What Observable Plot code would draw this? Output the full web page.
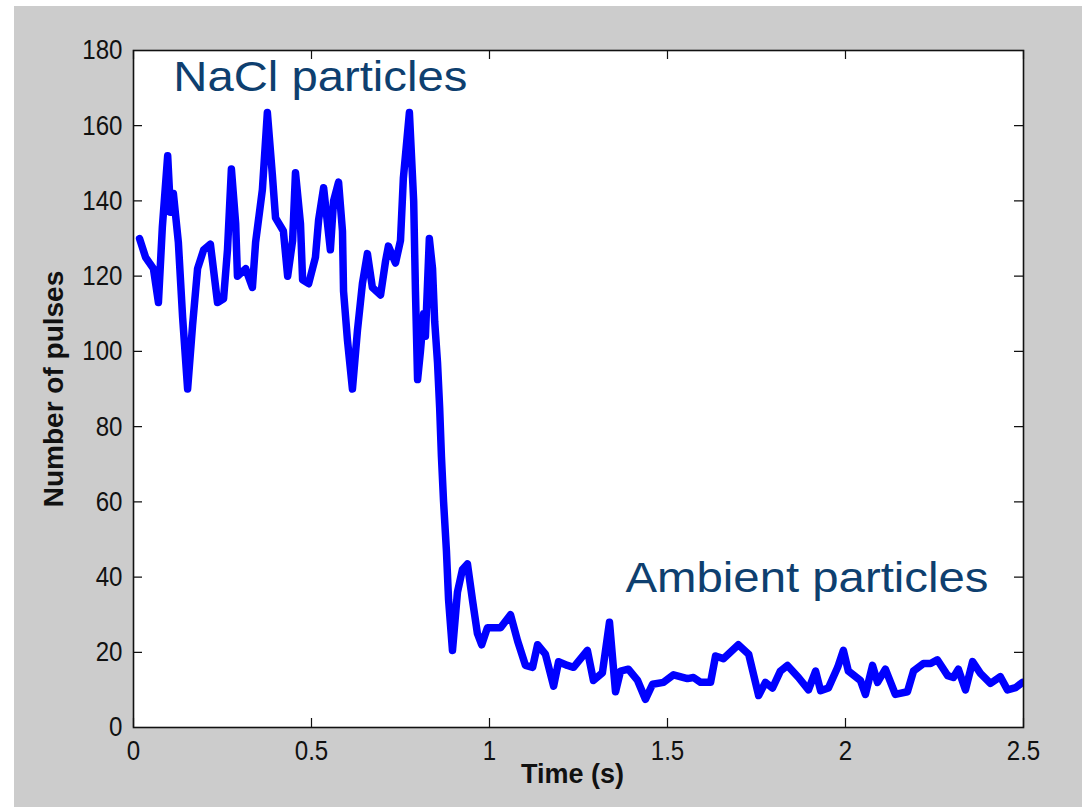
<!DOCTYPE html>
<html><head><meta charset="utf-8">
<script src="https://cdn.jsdelivr.net/npm/d3@7"></script>
<script src="https://cdn.jsdelivr.net/npm/@observablehq/plot@0.6"></script>
<style>
html,body{margin:0;padding:0;background:#fff;}
#bg{position:absolute;left:14px;top:6px;width:1068px;height:801px;background:#cccccc;}
#chart{position:absolute;left:0;top:0;}
</style></head><body><div id="bg"></div><div id="chart"></div>
<script>
const time = [
0.017,0.034,0.056,0.070,0.081,0.096,0.104,0.112,0.126,0.138,
0.152,0.166,0.180,0.197,0.216,0.236,0.253,0.264,0.275,0.287,
0.292,0.315,0.334,0.343,0.362,0.376,0.390,0.399,0.421,0.433,
0.447,0.455,0.469,0.475,0.492,0.511,0.520,0.534,0.553,0.562,
0.576,0.587,0.590,0.601,0.615,0.629,0.643,0.657,0.671,0.694,
0.708,0.716,0.736,0.750,0.758,0.775,0.787,0.792,0.798,0.806,
0.815,0.820,0.831,0.840,0.846,0.854,0.860,0.865,0.871,0.879,
0.885,0.896,0.910,0.924,0.938,0.952,0.966,0.978,0.994,1.031,
1.059,1.079,1.101,1.121,1.135,1.157,1.180,1.194,1.219,1.236,
1.275,1.292,1.317,1.337,1.348,1.354,1.368,1.390,1.416,1.438,
1.458,1.489,1.517,1.556,1.573,1.593,1.621,1.635,1.657,1.699,
1.728,1.756,1.775,1.795,1.817,1.837,1.868,1.896,1.916,1.930,
1.952,1.978,1.994,2.008,2.042,2.056,2.076,2.090,2.112,2.140,
2.174,2.191,2.219,2.239,2.258,2.287,2.303,2.317,2.337,2.357,
2.379,2.407,2.435,2.455,2.478,2.497];
const pulses = [
130,125,122,113,133,152,137,142,129,109,
90,107,122,127,128.5,113,114,127,148.5,134,
120,122,117,129,143,163.5,147,135.5,132,120,
129.5,147.5,134,119,118,125,135,143.5,127,140,
145,132,116,103,90,105.5,118,126,117,115,
124,128,123.5,129.5,146,163.5,140,116,92.5,100,
110,104,130,122,108,97,85,72,60,47,
34,20.5,36,42,43.5,34,25,22,26.5,26.5,
30,23,16.5,16,22,19.5,11,17.5,16.5,16,
20.5,12.5,14.5,28,16,9.5,15,15.5,12.5,7.5,
11.5,12,14,13,13.3,12,12,19,18.3,22,
19.5,8.5,12,10.5,15,16.5,13.3,10,15,9.8,
10.5,16,20.5,15,12.5,8.8,16.5,12,15.5,8.8,
9.5,15,17,17,18,13.8,13.3,15.5,10,17.5,
14.4,11.7,13.5,10,10.6,12];
const xTicks = [0, 0.5, 1, 1.5, 2, 2.5];
const yTicks = [0, 20, 40, 60, 80, 100, 120, 140, 160, 180];
const xLabel = "Time (s)";
const yLabel = "Number of pulses";
const annotationText = ["NaCl particles", "Ambient particles"];
const annotationTime = [0.112, 1.382];
const annotationValue = [172.9, 39.7];

const data = time.map((t, i) => ({t, v: pulses[i]}));
const notes = annotationText.map((text, i) => ({text, t: annotationTime[i], v: annotationValue[i]}));

const plot = Plot.plot({
  width: 1082, height: 807,
  marginLeft: 133, marginRight: 59, marginTop: 50, marginBottom: 80,
  style: {fontFamily: "'Liberation Sans', Arial, sans-serif", background: "transparent", color: "#111", overflow: "visible"},
  x: {domain: [0, 2.5]},
  y: {domain: [0, 180]},
  marks: [
    Plot.frame({fill: "white", stroke: null}),
    Plot.ruleY(yTicks, {y: d => d, x1: 0, x2: 2.5, stroke: "#111", strokeWidth: 1.2, strokeDasharray: "9 872 9"}),
    Plot.ruleX(xTicks, {x: d => d, y1: 0, y2: 180, stroke: "#111", strokeWidth: 1.2, strokeDasharray: "9 659 9"}),
    Plot.line(data, {x: "t", y: "v", stroke: "#0000ff", strokeWidth: 7.5, strokeLinejoin: "round", strokeLinecap: "round", clip: true}),
    Plot.frame({stroke: "#111", strokeWidth: 1.6}),
    Plot.axisX({ticks: xTicks, tickSize: 0, tickPadding: 13, fontSize: 28, tickFormat: d => String(d), label: null}),
    Plot.axisY({ticks: yTicks, tickSize: 0, tickPadding: 11, fontSize: 28, tickFormat: d => String(d), label: null}),
    Plot.text([xLabel], {text: d => d, frameAnchor: "bottom", lineAnchor: "middle", textAnchor: "middle", dy: 47, dx: -6, fontSize: 27, fontWeight: "bold", fill: "#111"}),
    Plot.text([yLabel], {text: d => d, frameAnchor: "left", lineAnchor: "middle", textAnchor: "middle", dx: -79, rotate: -90, fontSize: 28, fontWeight: "bold", fill: "#111"}),
    Plot.text(notes, {x: "t", y: "v", text: "text", textAnchor: "start", lineAnchor: "middle", fontSize: 42, fill: "#0e3f6f"})
  ]
});
document.getElementById("chart").appendChild(plot);

// horizontal adjustments of glyph widths to match the reference typography
const widths = {"NaCl particles": 294, "Ambient particles": 363};
plot.querySelectorAll("text").forEach(el => {
  const s = el.textContent;
  if (widths[s]) {
    el.setAttribute("textLength", widths[s]);
    el.setAttribute("lengthAdjust", "spacingAndGlyphs");
  } else if (/^[0-9.]+$/.test(s)) {
    const w = el.getComputedTextLength();
    el.setAttribute("textLength", (w * 0.86).toFixed(1));
    el.setAttribute("lengthAdjust", "spacingAndGlyphs");
  }
});
</script>
</body></html>
